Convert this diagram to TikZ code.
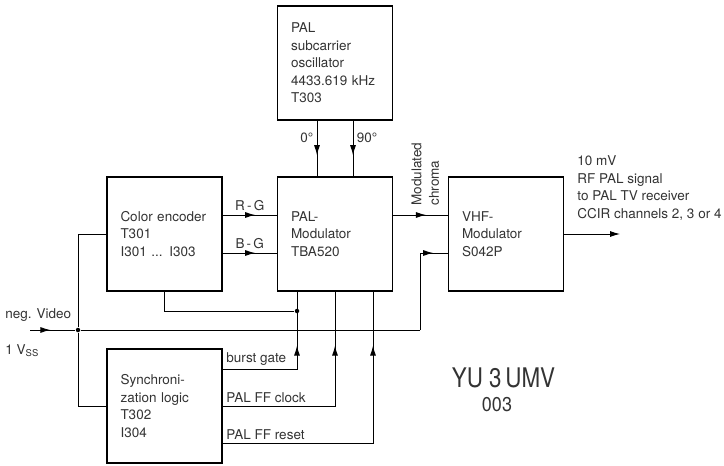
\documentclass[tikz,border=0pt]{standalone}
\usepackage{fontspec}
\setmainfont{TeX Gyre Heros}
\usetikzlibrary{arrows.meta,calc,positioning,decorations.markings}

\tikzset{
  blk/.style={draw, line width=1.3pt, minimum width=115pt, minimum height=114pt,
    text width=88pt, align=left, inner sep=0pt},
  flow/.style={postaction={decorate}, decoration={markings,
    mark=at position #1 with {\arrow{Latex[length=10pt,width=6pt]}}}},
  jdot/.style={circle, fill, inner sep=0pt, minimum size=4.5pt},
}

\begin{document}
\begin{tikzpicture}[x=1pt, y=-1pt, line width=0.9pt, text=black!80,
  font=\fontsize{13.5}{17.5}\selectfont]
\useasboundingbox (0,0) rectangle (724,466);
% blocchi
\node[blk] (osc) at (335,63) {PAL\\subcarrier\\oscillator\\4433.619 kHz\\T303};
\node[blk] (mod) at (335,234) {PAL-\\Modulator\\TBA520};
\node[blk] (enc) at (164.5,234) {Color encoder\\T301\\I301 ... I303};
\node[blk] (sync) at (164.5,406) {Synchroni-\\zation logic\\T302\\I304};
\node[blk] (vhf) at (506,234) {VHF-\\Modulator\\S042P};
% portante 0 / 90 gradi
\draw[flow=0.62] ([xshift=-18pt]osc.south) -- node[pos=0.3,left]{0°} ([xshift=-18pt]mod.north);
\draw[flow=0.62] ([xshift=18pt]osc.south) -- node[pos=0.3,right]{90°} ([xshift=18pt]mod.north);
% segnali differenza colore
\foreach \dy/\lab in {19/R\,-\,G, -19/B\,-\,G}{
  \draw[flow=0.6] ([yshift=\dy pt]enc.east) -- node[above]{\lab} ([yshift=\dy pt]mod.west);
}
% croma modulata verso VHF
\draw[flow=0.6] ([yshift=19pt]mod.east) -- ([yshift=19pt]vhf.west);
\node[rotate=90, anchor=north west, align=left, inner sep=0pt] (chroma) at (411,206) {Modulated\\chroma};
% uscita RF
\coordinate (rfout) at (620,234);
\draw[-{Latex[length=10pt,width=6pt]}] (vhf.east) -- (rfout);
\node[anchor=west, align=left, inner sep=0pt] (rftxt) at (577,188)
  {10 mV\\RF PAL signal\\to PAL TV receiver\\CCIR channels 2, 3 or 4};
% ingresso video
\coordinate (vin) at (30,330);
\node[jdot] (j1) at (78,330) {};
\coordinate (vbend) at (420,330);
\node[anchor=west, inner sep=0pt] (negvid) at (5,315) {neg. Video};
\node[anchor=west, inner sep=0pt] (vss) at (5,351) {1 V\textsubscript{SS}};
\draw[flow=0.45] (vin) -- (j1);
\draw (j1) -- (vbend);
\draw[flow=0.86] (vbend) |- ([yshift=-19pt]vhf.west);
\draw (j1) |- (enc.west);
\draw (j1) |- (sync.west);
% encoder -> linea burst gate
\node[jdot] (j2) at (297,311) {};
\draw (enc.south) |- (j2);
% logica di sincronismo -> modulatore
\foreach \dy/\dx/\lab in {37/-38/burst gate, 0/0/PAL FF clock, -37/38/PAL FF reset}{
  \draw[flow=-54pt] ([yshift=\dy pt]sync.east) -| node[pos=0,above right,inner ysep=3pt]{\lab} ([xshift=\dx pt]mod.south);
}
% sigla
\node[font=\fontsize{27}{30}\selectfont] (call) at (503.5,378) {\scalebox{0.83}[1]{YU 3\,UMV}};
\node[font=\fontsize{20}{24}\selectfont] (serial) at (497,404.5) {\scalebox{0.9}[1]{003}};
\end{tikzpicture}
\end{document}
